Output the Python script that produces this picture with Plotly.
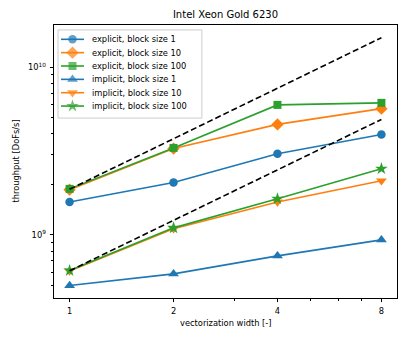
import plotly.graph_objects as go

# vectorization widths
widths = [1, 2, 4, 8]

# throughput [DoFs/s]
explicit_bs1 = [1.57e9, 2.05e9, 3.05e9, 3.97e9]
explicit_bs10 = [1.86e9, 3.27e9, 4.56e9, 5.66e9]
explicit_bs100 = [1.88e9, 3.30e9, 5.96e9, 6.13e9]
implicit_bs1 = [4.98e8, 5.85e8, 7.49e8, 9.33e8]
implicit_bs10 = [6.09e8, 1.086e9, 1.57e9, 2.10e9]
implicit_bs100 = [6.12e8, 1.10e9, 1.64e9, 2.48e9]

# ideal scaling guides (end points)
ideal_widths = [1, 8]
ideal_explicit = [1.87e9, 1.50e10]
ideal_implicit = [6.1e8, 4.88e9]

series = [
    ("explicit, block size 1", explicit_bs1, "#1f77b4", "circle", 8.5),
    ("explicit, block size 10", explicit_bs10, "#ff7f0e", "diamond", 9.5),
    ("explicit, block size 100", explicit_bs100, "#2ca02c", "square", 8),
    ("implicit, block size 1", implicit_bs1, "#1f77b4", "triangle-up", 9.5),
    ("implicit, block size 10", implicit_bs10, "#ff7f0e", "triangle-down", 9.5),
    ("implicit, block size 100", implicit_bs100, "#2ca02c", "star", 9.5),
]

font = "DejaVu Sans"

fig = go.Figure()
for name, vals, col, sym, sz in series:
    fig.add_trace(go.Scatter(
        x=widths, y=vals, name=name, mode="lines+markers", showlegend=False,
        line=dict(color=col, width=1.6),
        marker=dict(symbol=sym, size=sz, color=col, line=dict(width=0)),
    ))

for vals in [ideal_explicit, ideal_implicit]:
    fig.add_trace(go.Scatter(
        x=ideal_widths, y=vals, mode="lines", showlegend=False,
        line=dict(color="black", width=1.6, dash="6px,3px"),
    ))

# matplotlib-style legend drawn on an overlay axis (0..1 in both directions)
box_x = [0.0117, 0.431, 0.431, 0.0117, 0.0117]
box_y = [0.982, 0.982, 0.659, 0.659, 0.982]
fig.add_trace(go.Scatter(
    x=box_x, y=box_y, xaxis="x2", yaxis="y2", mode="lines", fill="toself",
    fillcolor="rgba(255,255,255,0.8)", line=dict(color="#cccccc", width=1),
    showlegend=False, hoverinfo="skip",
))
row_y0, row_step = 0.9476, 0.0489
for i, (name, vals, col, sym, sz) in enumerate(series):
    yy = row_y0 - i * row_step
    fig.add_trace(go.Scatter(
        x=[0.0204, 0.0539, 0.0875], y=[yy, yy, yy], xaxis="x2", yaxis="y2",
        mode="lines+markers", showlegend=False, hoverinfo="skip",
        line=dict(color=col, width=1.6),
        marker=dict(symbol=sym, size=[0, sz, 0], color=col, line=dict(width=0)),
    ))
    fig.add_annotation(
        x=0.104, y=yy, xref="x2", yref="y2", text=name, showarrow=False,
        xanchor="left", yanchor="middle", font=dict(size=8.3, family=font, color="black"),
    )

# axis titles
fig.add_annotation(text="vectorization width [-]", x=0.5, y=-0.0916, xref="paper", yref="paper",
                   xanchor="center", yanchor="middle", showarrow=False,
                   font=dict(size=8.3, family=font, color="black"))
fig.add_annotation(text="throughput [DoFs/s]", x=-0.1137, y=0.5, xref="paper", yref="paper",
                   xanchor="center", yanchor="middle", textangle=-90, showarrow=False,
                   font=dict(size=8.3, family=font, color="black"))

y_minor = [5e8, 6e8, 7e8, 8e8, 9e8] + [k * 1e9 for k in range(2, 10)]

# the page body adds an 8px offset, so the figure is 8px smaller on each side
fig.update_layout(
    width=391, height=323,
    margin=dict(l=46, r=2, t=17, b=33),
    paper_bgcolor="white", plot_bgcolor="white",
    font=dict(family=font, size=8.3, color="black"),
    title=dict(text="Intel Xeon Gold 6230", x=0.5, xref="paper", xanchor="center",
               y=1 - 6 / 323, yref="container", yanchor="middle",
               font=dict(size=10, family=font, color="black")),
    showlegend=False,
    xaxis2=dict(overlaying="x", range=[0, 1], visible=False, fixedrange=True),
    yaxis2=dict(overlaying="y", range=[0, 1], visible=False, fixedrange=True),
)

fig.layout.xaxis.update(
    type="log", range=[-0.04515, 0.94824], automargin=False,
    tickmode="array", tickvals=widths, ticktext=[str(w) for w in widths],
    ticks="outside", ticklen=3.5, tickwidth=0.8, tickcolor="black", ticklabelstandoff=2,
    minor=dict(tickmode="array", tickvals=[3, 5, 6, 7], ticks="outside",
               ticklen=2, tickwidth=0.6, tickcolor="black", showgrid=False),
    showline=True, linecolor="black", linewidth=0.9, mirror=True,
    showgrid=False, zeroline=False,
)
fig.layout.yaxis.update(
    type="log", range=[8.623, 10.252], automargin=False,
    tickmode="array", tickvals=[1e9, 1e10], ticktext=["10<sup>9</sup>", "10<sup>10</sup>"],
    ticks="outside", ticklen=3.5, tickwidth=0.8, tickcolor="black", ticklabelstandoff=2,
    minor=dict(tickmode="array", tickvals=y_minor, ticks="outside",
               ticklen=2, tickwidth=0.6, tickcolor="black", showgrid=False),
    showline=True, linecolor="black", linewidth=0.9, mirror=True,
    showgrid=False, zeroline=False,
)

fig.write_html("out.html")
